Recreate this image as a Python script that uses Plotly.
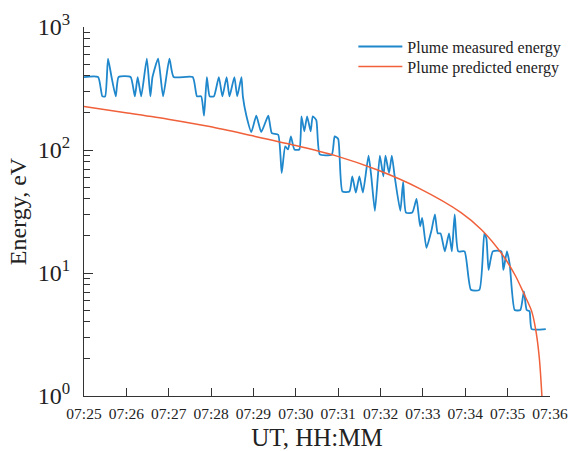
import pandas as pd
import plotly.graph_objects as go

# ---- data ----
start = "2000-01-01 07:25:00"

# measured plume energy: seconds after 07:25:00, energy (eV)
meas_sec = [0, 20, 26, 30, 34, 39, 45, 49, 66, 72, 76, 81, 89, 94, 97, 105, 112, 121, 127,
            154, 160, 166, 170, 174, 178, 184, 191, 196, 202, 206, 213, 217, 223, 225, 230,
            237, 244, 251, 261, 266, 275, 280, 285, 289, 293, 298, 305, 308, 312, 316, 321,
            324, 329, 334, 351, 355, 360, 366, 376, 380, 385, 390, 395, 403, 407, 412, 419,
            424, 427, 432, 436, 440, 448, 452, 456, 465, 471, 476, 479, 485, 492, 497, 501,
            505, 511, 517, 521, 525, 530, 539, 548, 560, 567, 570, 573, 579, 591, 594, 599,
            603, 610, 618, 623, 627, 631, 634, 654]
meas_energy = [392, 392, 273, 273, 553, 392, 273, 392, 392, 273, 392, 273, 553, 273, 392, 553,
               273, 553, 392, 392, 273, 273, 190, 392, 273, 273, 392, 273, 392, 273, 392, 273,
               392, 273, 190, 140, 190, 140, 190, 137, 133, 65, 107, 101, 129, 101, 101, 188,
               142, 188, 142, 188, 175, 92, 92, 129, 123, 46, 46, 61, 45, 61, 45, 90, 60, 32,
               90, 61, 90, 65, 90, 61, 32, 55, 31, 31, 40, 24, 28, 16, 22, 30, 21, 21, 15, 21,
               15, 30, 15, 15, 7.3, 7.3, 21, 19, 10.6, 15, 15, 10.6, 15, 11.7, 5.0, 5.0, 7.1,
               5.0, 4.9, 3.5, 3.5]

# predicted plume energy
pred_sec = [0, 59, 119, 178, 237, 296, 356, 415, 474, 534, 563, 593, 611, 622, 634, 640, 645, 649]
pred_energy = [226, 201, 178, 155, 131, 110, 90, 69, 49, 31, 22.5, 14, 9.5, 7.0, 4.9, 3.4, 2.0, 0.9]

x_ticks = ["07:25", "07:26", "07:27", "07:28", "07:29", "07:30",
           "07:31", "07:32", "07:33", "07:34", "07:35", "07:36"]
y_tickvals = [1, 10, 100, 1000]
y_ticktext = ["10<sup>0</sup>", "10<sup>1</sup>", "10<sup>2</sup>", "10<sup>3</sup>"]

t0 = pd.Timestamp(start)
meas_t = t0 + pd.to_timedelta(meas_sec, unit="s")
pred_t = t0 + pd.to_timedelta(pred_sec, unit="s")
tick_t = [pd.Timestamp("2000-01-01 " + s + ":00") for s in x_ticks]

minor_vals = [m * 10 ** d for d in range(0, 3) for m in range(2, 10)]

FONT = "Liberation Serif"

fig = go.Figure()
fig.add_trace(go.Scatter(
    x=meas_t, y=meas_energy, mode="lines", name="Plume measured energy",
    line=dict(color="#1f87cc", width=1.8, shape="spline", smoothing=0.5),
    legend="legend",
))
fig.add_trace(go.Scatter(
    x=pred_t, y=pred_energy, mode="lines", name="Plume predicted energy",
    line=dict(color="#f0603a", width=1.5, shape="spline", smoothing=0.8),
    legend="legend2",
))

leg_common = dict(xanchor="left", yanchor="top", bgcolor="rgba(0,0,0,0)", itemwidth=44,
                  font=dict(family=FONT, size=16, color="#222222"))
fig.update_layout(
    width=569, height=451,
    margin=dict(l=84, r=19, t=27, b=55, autoexpand=False),
    paper_bgcolor="white", plot_bgcolor="white",
    font=dict(family=FONT, color="#222222"),
    showlegend=True,
    legend=dict(x=0.578, y=0.993, **leg_common),
    legend2=dict(x=0.578, y=0.939, **leg_common),
)
fig.update_xaxes(
    range=[tick_t[0], tick_t[-1]], automargin=False,
    tickmode="array", tickvals=tick_t, ticktext=x_ticks,
    ticks="inside", ticklen=8, tickwidth=1.2, tickcolor="#333333",
    showline=True, linecolor="#333333", linewidth=1.2, mirror=False,
    showgrid=False, zeroline=False, ticklabelstandoff=3,
    tickfont=dict(family=FONT, size=15.5, color="#222222"),
    title=dict(text="UT, HH:MM", font=dict(family=FONT, size=25, color="#222222"), standoff=8),
)
fig.update_yaxes(
    type="log", range=[0, 3], automargin=False,
    tickmode="array", tickvals=y_tickvals, ticktext=y_ticktext,
    ticks="inside", ticklen=9, tickwidth=1.2, tickcolor="#333333",
    minor=dict(tickmode="array", tickvals=minor_vals, ticks="inside", ticklen=6,
               tickwidth=1.0, tickcolor="#333333", showgrid=False),
    showline=True, linecolor="#333333", linewidth=1.2, mirror=False,
    showgrid=False, zeroline=False, ticklabelstandoff=8,
    tickfont=dict(family=FONT, size=24, color="#222222"),
    title=dict(text="Energy, eV", font=dict(family=FONT, size=24, color="#222222"), standoff=4),
)

fig.write_html("out.html")
